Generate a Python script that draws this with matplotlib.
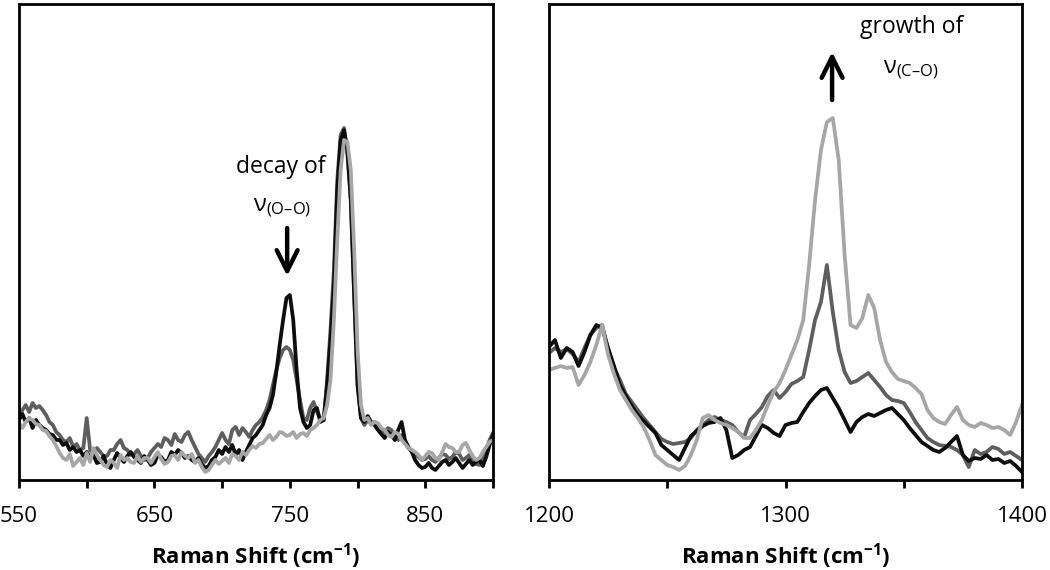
import numpy as np
import matplotlib
matplotlib.use("Agg")
import matplotlib.pyplot as plt

plt.rcParams['font.family'] = ['Open Sans', 'DejaVu Sans']
plt.rcParams['mathtext.fontset'] = 'custom'
plt.rcParams['mathtext.rm'] = 'Open Sans'
plt.rcParams['mathtext.bf'] = 'Open Sans:bold'
plt.rcParams['mathtext.default'] = 'regular'

# ---------------- Left panel data (550-900 cm-1, step 2.5) ----------------
x_left = np.arange(550, 900.01, 2.5)
black_left = [
    60, 66, 58, 62, 52, 60, 55, 52, 50, 46, 45, 40, 40, 35, 37, 30, 33, 28, 30, 24,
    28, 22, 25, 17, 18, 24, 15, 12, 20, 27, 22, 18, 24, 28, 23, 20, 17, 24, 20, 15,
    17, 25, 23, 18, 20, 28, 25, 30, 27, 22, 24, 20, 18, 22, 16, 12, 14, 20, 23, 30,
    26, 33, 28, 35, 25, 30, 20, 28, 35, 42, 45, 50, 55, 65, 72, 85, 108, 135, 160, 182,
    185, 160, 110, 72, 58, 52, 55, 70, 72, 58, 60, 95, 140, 195, 290, 340, 350, 330, 280, 185,
    95, 62, 58, 64, 58, 55, 50, 46, 42, 48, 45, 40, 50, 58, 40, 33, 28, 20, 15, 12,
    13, 17, 12, 10, 14, 18, 20, 15, 18, 22, 17, 12, 16, 20, 15, 18, 20, 14, 23, 35,
    45]
dgray_left = [
    62, 70, 75, 68, 77, 72, 74, 70, 65, 58, 55, 48, 45, 40, 38, 42, 33, 36, 30, 32,
    62, 30, 26, 32, 28, 24, 24, 30, 30, 36, 40, 32, 30, 25, 26, 30, 24, 20, 22, 28,
    32, 36, 33, 42, 40, 35, 46, 40, 38, 45, 48, 40, 33, 26, 22, 18, 24, 28, 33, 40,
    47, 40, 36, 50, 53, 45, 52, 48, 43, 50, 55, 58, 63, 70, 80, 95, 110, 122, 130, 133,
    130, 120, 100, 80, 62, 60, 72, 78, 68, 62, 60, 100, 150, 210, 300, 345, 352, 325, 280, 185,
    95, 62, 55, 60, 56, 58, 53, 48, 48, 52, 50, 44, 40, 45, 37, 32, 30, 26, 23, 20,
    21, 24, 20, 18, 22, 26, 25, 21, 23, 28, 26, 20, 22, 25, 20, 16, 15, 22, 30, 40,
    47]
lgray_left = [
    57, 52, 58, 62, 60, 56, 55, 50, 49, 44, 40, 34, 27, 22, 20, 26, 14, 18, 22, 15,
    27, 18, 32, 25, 20, 15, 13, 20, 17, 12, 25, 20, 22, 18, 17, 24, 18, 22, 22, 17,
    23, 28, 21, 16, 18, 24, 25, 20, 28, 24, 22, 26, 17, 20, 13, 8, 10, 15, 20, 16,
    19, 22, 17, 26, 24, 20, 28, 25, 30, 34, 32, 36, 37, 41, 45, 40, 43, 48, 47, 44,
    45, 48, 42, 46, 47, 44, 50, 52, 55, 60, 62, 75, 100, 160, 240, 310, 340, 338, 310, 230,
    130, 75, 60, 62, 55, 58, 57, 52, 50, 45, 43, 48, 46, 40, 36, 32, 30, 28, 25, 20,
    24, 28, 27, 22, 20, 28, 36, 33, 32, 28, 28, 35, 37, 30, 24, 20, 22, 28, 33, 38,
    40]

# ---------------- Right panel data (1200-1400 cm-1, step 2.5) ----------------
x_right = np.arange(1200, 1400.01, 2.5)
black_right = [133, 140, 122, 132, 128, 114, 128, 145, 155, 152, 132, 114, 95, 84, 74, 65, 59, 53, 47, 35,
               30, 25, 20, 32, 44, 49, 54, 57, 58, 62, 50, 22, 25, 30, 33, 44, 55, 52, 47, 44,
               55, 57, 58, 68, 77, 84, 90, 92, 82, 72, 60, 48, 58, 63, 66, 64, 67, 70, 72, 66,
               60, 52, 45, 38, 34, 30, 28, 32, 38, 44, 25, 19, 22, 21, 25, 20, 21, 17, 19, 14, 8]
dgray_right = [127, 132, 128, 131, 126, 118, 132, 145, 152, 155, 130, 112, 100, 86, 78, 70, 62, 55, 48, 41,
               38, 36, 37, 38, 42, 50, 55, 60, 63, 60, 58, 55, 48, 43, 60, 66, 73, 84, 90, 82,
               88, 96, 99, 103, 130, 160, 178, 215, 168, 130, 108, 97, 99, 103, 107, 100, 93, 85, 80, 79,
               77, 68, 58, 50, 42, 38, 35, 34, 33, 30, 25, 13, 30, 26, 28, 33, 31, 26, 28, 24, 20]
lgray_right = [110, 112, 114, 112, 113, 95, 105, 118, 135, 155, 125, 106, 90, 80, 70, 62, 53, 40, 25, 20,
               15, 13, 10, 14, 25, 40, 62, 65, 60, 57, 55, 52, 48, 42, 42, 50, 60, 75, 88, 97,
               110, 125, 140, 160, 215, 280, 330, 358, 362, 320, 225, 155, 152, 162, 185, 172, 140, 118, 108, 101,
               99, 97, 92, 86, 70, 62, 58, 56, 65, 73, 60, 55, 53, 57, 55, 52, 53, 50, 45, 58, 75]

left_ticks = [550, 650, 750, 850]
right_ticks = [1200, 1300, 1400]
xlabel = "Raman Shift (cm$^{\\mathbf{-1}}$)"

colors = {"black": "#0d0d0d", "dgray": "#5e5e5e", "lgray": "#a6a6a6"}
LW = 2.7

fig = plt.figure(figsize=(10.5, 5.7), dpi=100)
axL = fig.add_axes([19 / 1050, 1 - 480 / 570, 474 / 1050, 476 / 570])
axR = fig.add_axes([549 / 1050, 1 - 480 / 570, 473 / 1050, 476 / 570])

for ax, x, b, d, l in [(axL, x_left, black_left, dgray_left, lgray_left),
                       (axR, x_right, black_right, dgray_right, lgray_right)]:
    ax.plot(x, d, color=colors["dgray"], lw=LW, solid_joinstyle='round')
    ax.plot(x, b, color=colors["black"], lw=LW, solid_joinstyle='round')
    ax.plot(x, l, color=colors["lgray"], lw=LW, solid_joinstyle='round')
    ax.set_ylim(0, 476)
    ax.set_yticks([])
    for s in ax.spines.values():
        s.set_linewidth(2.0)
        s.set_color('black')
    ax.tick_params(axis='x', which='both', direction='out', length=6, width=2.0,
                   labelsize=16, pad=13, colors='black')
    ax.set_xlabel(xlabel, fontsize=16, fontweight='bold', labelpad=10)

axL.set_xlim(550, 900)
axL.set_xticks(left_ticks)
axL.set_xticks(np.arange(550, 901, 50), minor=True)
axR.set_xlim(1200, 1400)
axR.set_xticks(right_ticks)
axR.set_xticks(np.arange(1200, 1401, 50), minor=True)

arrow_style = dict(arrowstyle='->,head_length=1.5,head_width=0.75', lw=3.2, color='black',
                   shrinkA=0, shrinkB=0)

# annotations
axL.text(743, 313, "decay of", ha='center', va='center', fontsize=16.5)
axL.text(744, 272, "ν$_{(O–O)}$", ha='center', va='center', fontsize=17)
axL.annotate("", xy=(748, 204), xytext=(748, 252), arrowprops=arrow_style)

axR.text(1353.5, 453, "growth of", ha='center', va='center', fontsize=16.5)
axR.text(1353, 410, "ν$_{(C–O)}$", ha='center', va='center', fontsize=17)
axR.annotate("", xy=(1319.7, 428), xytext=(1319.7, 380), arrowprops=arrow_style)

fig.savefig("out.png", dpi=100)
